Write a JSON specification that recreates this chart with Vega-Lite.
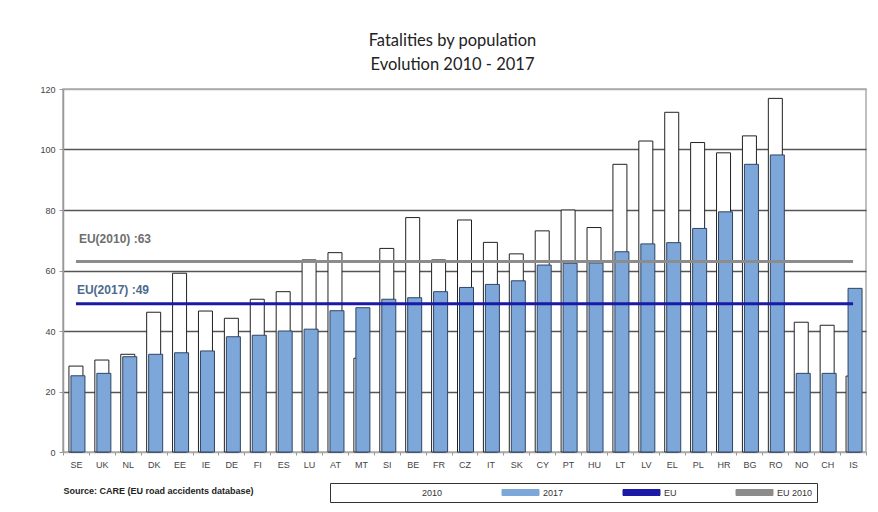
{
  "$schema": "https://vega.github.io/schema/vega-lite/v6.json",
  "autosize": {"type": "none"},
  "width": 803,
  "height": 363,
  "padding": {"left": 63, "top": 89, "right": 12, "bottom": 60},
  "background": "white",
  "title": {
    "text": ["Fatalities by population", "Evolution 2010 - 2017"],
    "font": "Lato",
    "fontSize": 16.5,
    "fontWeight": "normal",
    "color": "#222",
    "lineHeight": 24,
    "offset": 12,
    "anchor": "middle",
    "dx": -12
  },
  "datasets": {
    "countries": [
      {"country": "SE", "y2010": 28.4, "y2017": 25.2},
      {"country": "UK", "y2010": 30.4, "y2017": 26.0},
      {"country": "NL", "y2010": 32.3, "y2017": 31.5},
      {"country": "DK", "y2010": 46.2, "y2017": 32.3},
      {"country": "EE", "y2010": 59.1, "y2017": 32.8},
      {"country": "IE", "y2010": 46.6, "y2017": 33.4},
      {"country": "DE", "y2010": 44.2, "y2017": 38.1},
      {"country": "FI", "y2010": 50.5, "y2017": 38.6},
      {"country": "ES", "y2010": 53.0, "y2017": 40.0},
      {"country": "LU", "y2010": 63.5, "y2017": 40.6},
      {"country": "AT", "y2010": 65.9, "y2017": 46.7},
      {"country": "MT", "y2010": 31.0, "y2017": 47.7},
      {"country": "SI", "y2010": 67.3, "y2017": 50.5},
      {"country": "BE", "y2010": 77.5, "y2017": 51.0},
      {"country": "FR", "y2010": 63.5, "y2017": 53.0},
      {"country": "CZ", "y2010": 76.7, "y2017": 54.4},
      {"country": "IT", "y2010": 69.3, "y2017": 55.4},
      {"country": "SK", "y2010": 65.5, "y2017": 56.6},
      {"country": "CY", "y2010": 73.1, "y2017": 61.8},
      {"country": "PT", "y2010": 80.0, "y2017": 62.4},
      {"country": "HU", "y2010": 74.2, "y2017": 62.5},
      {"country": "LT", "y2010": 95.1, "y2017": 66.2},
      {"country": "LV", "y2010": 102.8, "y2017": 68.8},
      {"country": "EL", "y2010": 112.3, "y2017": 69.2},
      {"country": "PL", "y2010": 102.3, "y2017": 73.9},
      {"country": "HR", "y2010": 98.9, "y2017": 79.4},
      {"country": "BG", "y2010": 104.5, "y2017": 95.1},
      {"country": "RO", "y2010": 116.9, "y2017": 98.2},
      {"country": "NO", "y2010": 42.9, "y2017": 26.0},
      {"country": "CH", "y2010": 41.9, "y2017": 26.0},
      {"country": "IS", "y2010": 25.1, "y2017": 54.1}
    ],
    "eu": [
      {"series": "EU 2010", "value": 63, "label": "EU(2010) :63"},
      {"series": "EU", "value": 49, "label": "EU(2017) :49"}
    ]
  },
  "layer": [
    {
      "data": {"name": "countries"},
      "mark": {"type": "bar", "size": 14, "stroke": "#222", "strokeWidth": 1},
      "encoding": {
        "x": {
          "field": "country", "type": "nominal", "sort": null,
          "scale": {"type": "band", "paddingInner": 0, "paddingOuter": 0},
          "axis": {
            "title": "Source: CARE (EU road accidents database)",
            "titleX": 0, "titleY": 41, "titleAlign": "left", "titleAnchor": "start",
            "titleBaseline": "alphabetic",
            "titleFont": "Liberation Sans", "titleFontSize": 9, "titleFontWeight": "bold", "titleColor": "#222",
            "labelAngle": 0, "labelFont": "Liberation Sans", "labelFontSize": 9, "labelColor": "#444",
            "labelPadding": 5, "tickBand": "extent", "tickSize": 3, "tickColor": "#999",
            "domain": false, "grid": false
          }
        },
        "y": {
          "field": "y2010", "type": "quantitative",
          "scale": {"domain": [0, 120], "nice": false},
          "axis": {
            "title": null, "values": [0, 20, 40, 60, 80, 100, 120],
            "labelFont": "Liberation Sans", "labelFontSize": 9, "labelColor": "#444",
            "labelPadding": 4, "tickSize": 4, "tickColor": "#999",
            "domainColor": "#999", "domainWidth": 1.5,
            "grid": true,
            "gridColor": {"condition": {"test": "datum.value == 120 || datum.value == 0", "value": "#aaa"}, "value": "#555"},
            "gridWidth": 1.5
          }
        },
        "color": {
          "datum": "2010",
          "scale": {"domain": ["2010", "2017", "EU", "EU 2010"], "range": ["#ffffff", "#7da7d9", "#1a1aa6", "#8c8c8c"]},
          "legend": {
            "title": " ",
            "symbolType": "M-3.7,-0.6H3.7V0.6H-3.7Z",
            "symbolStrokeColor": "#333",
            "symbolStrokeWidth": 1
          }
        }
      }
    },
    {
      "data": {"name": "countries"},
      "mark": {"type": "bar", "size": 14, "xOffset": 2, "stroke": "#2f4566", "strokeWidth": 1},
      "encoding": {
        "x": {"field": "country", "type": "nominal", "sort": null},
        "y": {"field": "y2017", "type": "quantitative"},
        "color": {"datum": "2017", "legend": null}
      }
    },
    {
      "data": {"name": "eu"},
      "mark": {"type": "rule", "strokeWidth": 3},
      "encoding": {
        "x": {"datum": "SE"},
        "x2": {"datum": "IS"},
        "y": {"field": "value", "type": "quantitative"},
        "color": {"field": "series", "type": "nominal", "legend": null}
      }
    },
    {
      "data": {"name": "eu"},
      "transform": [{"filter": "datum.series == 'EU 2010'"}],
      "mark": {"type": "text", "align": "left", "baseline": "middle", "dx": 3, "dy": -22, "font": "Liberation Sans", "fontSize": 12, "fontWeight": "bold", "color": "#6e6e6e"},
      "encoding": {
        "x": {"datum": "SE"},
        "y": {"field": "value", "type": "quantitative"},
        "text": {"field": "label"}
      }
    },
    {
      "data": {"name": "eu"},
      "transform": [{"filter": "datum.series == 'EU'"}],
      "mark": {"type": "text", "align": "left", "baseline": "middle", "dx": 1, "dy": -14, "font": "Liberation Sans", "fontSize": 12, "fontWeight": "bold", "color": "#4c6a8c"},
      "encoding": {
        "x": {"datum": "SE"},
        "y": {"field": "value", "type": "quantitative"},
        "text": {"field": "label"}
      }
    }
  ],
  "config": {
    "view": {"stroke": "#aaa", "strokeWidth": 1.5},
    "legend": {
      "orient": "none",
      "legendX": 267,
      "legendY": 394,
      "direction": "horizontal",
      "columns": 4,
      "gridAlign": "none",
      "columnPadding": 57,
      "padding": 4,
      "strokeColor": "#333",
      "symbolSize": 100,
      "symbolOffset": 14,
      "labelFont": "Liberation Sans",
      "labelFontSize": 9,
      "labelColor": "#333",
      "labelOffset": 17,
      "titleOrient": "left",
      "titlePadding": 46,
      "titleFontSize": 9
    }
  }
}
